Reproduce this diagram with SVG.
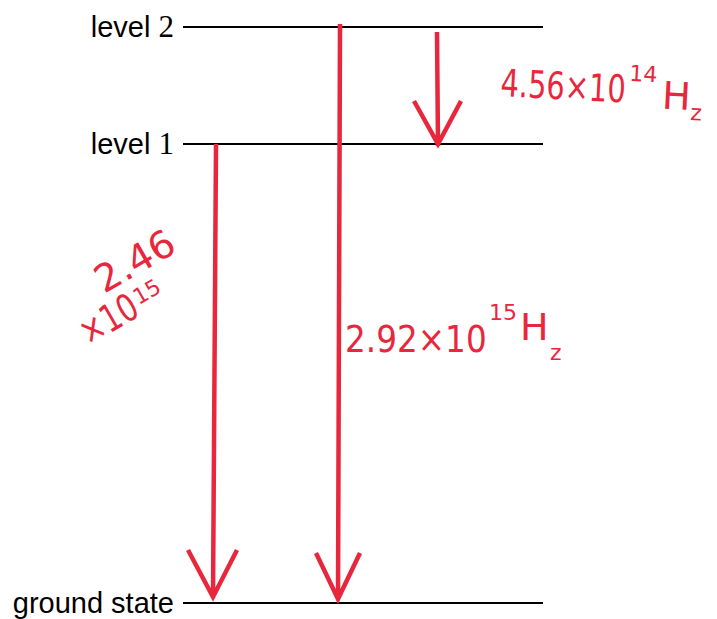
<svg xmlns="http://www.w3.org/2000/svg" width="717" height="619" viewBox="0 0 717 619">
<style>
.lvl{stroke:#000;stroke-width:2;fill:none}
.lab{font-family:"Liberation Sans",Arial,sans-serif;font-size:29px;fill:#000}
.num{font-family:"Liberation Serif","Times New Roman",serif;font-size:31px}
.arr{stroke:#e8273d;stroke-width:4.5;fill:none;stroke-linecap:butt;stroke-linejoin:miter}
.hw{font-family:"DejaVu Sans",sans-serif;fill:#e8273d;font-size:38px}
.sup{font-size:22px}
</style>
<rect width="717" height="619" fill="#fff"/>
<g id="level2"><line class="lvl" x1="183" y1="27" x2="543" y2="27"/><text class="lab" x="174" y="37" text-anchor="end">level <tspan class="num">2</tspan></text></g>
<g id="level1"><line class="lvl" x1="183" y1="144" x2="543" y2="144"/><text class="lab" x="174" y="154" text-anchor="end">level <tspan class="num">1</tspan></text></g>
<g id="ground"><line class="lvl" x1="183" y1="603" x2="543" y2="603"/><text class="lab" x="174" y="613" text-anchor="end">ground state</text></g>
<g id="connectors">
<path class="arr" d="M216 144 L213 598 M188 550 L213 597 L237 550"/>
<path class="arr" d="M340 24 L338 600 M316 553 L338 599 L360 553"/>
<path class="arr" d="M437 32 L438 146 M414 101 L438 144 L461 101"/>
</g>
<g id="labels">
<g transform="rotate(3 500 96)">
<text class="hw" transform="translate(500 96) scale(0.76 1)">4.56×10</text>
<text class="hw sup" x="628" y="74">14</text>
<text class="hw" x="662" y="100" font-size="34">H</text>
<text class="hw sup" x="691" y="110">z</text>
</g>
<text class="hw" x="104" y="294" transform="rotate(-30 104 294)" textLength="86" lengthAdjust="spacingAndGlyphs" font-size="32">2.46</text>
<g transform="rotate(-30 88 346)">
<text class="hw" x="88" y="346" font-size="32" textLength="62" lengthAdjust="spacingAndGlyphs">×10</text>
<text class="hw sup" x="152" y="336" font-size="20">15</text>
</g>
<text class="hw" transform="translate(345 352) scale(0.86 1)">2.92×10</text>
<text class="hw sup" x="489" y="320">15</text>
<text class="hw" x="520" y="340" font-size="34">H</text>
<text class="hw sup" x="550" y="360" font-size="26">z</text>
</g>
</svg>
